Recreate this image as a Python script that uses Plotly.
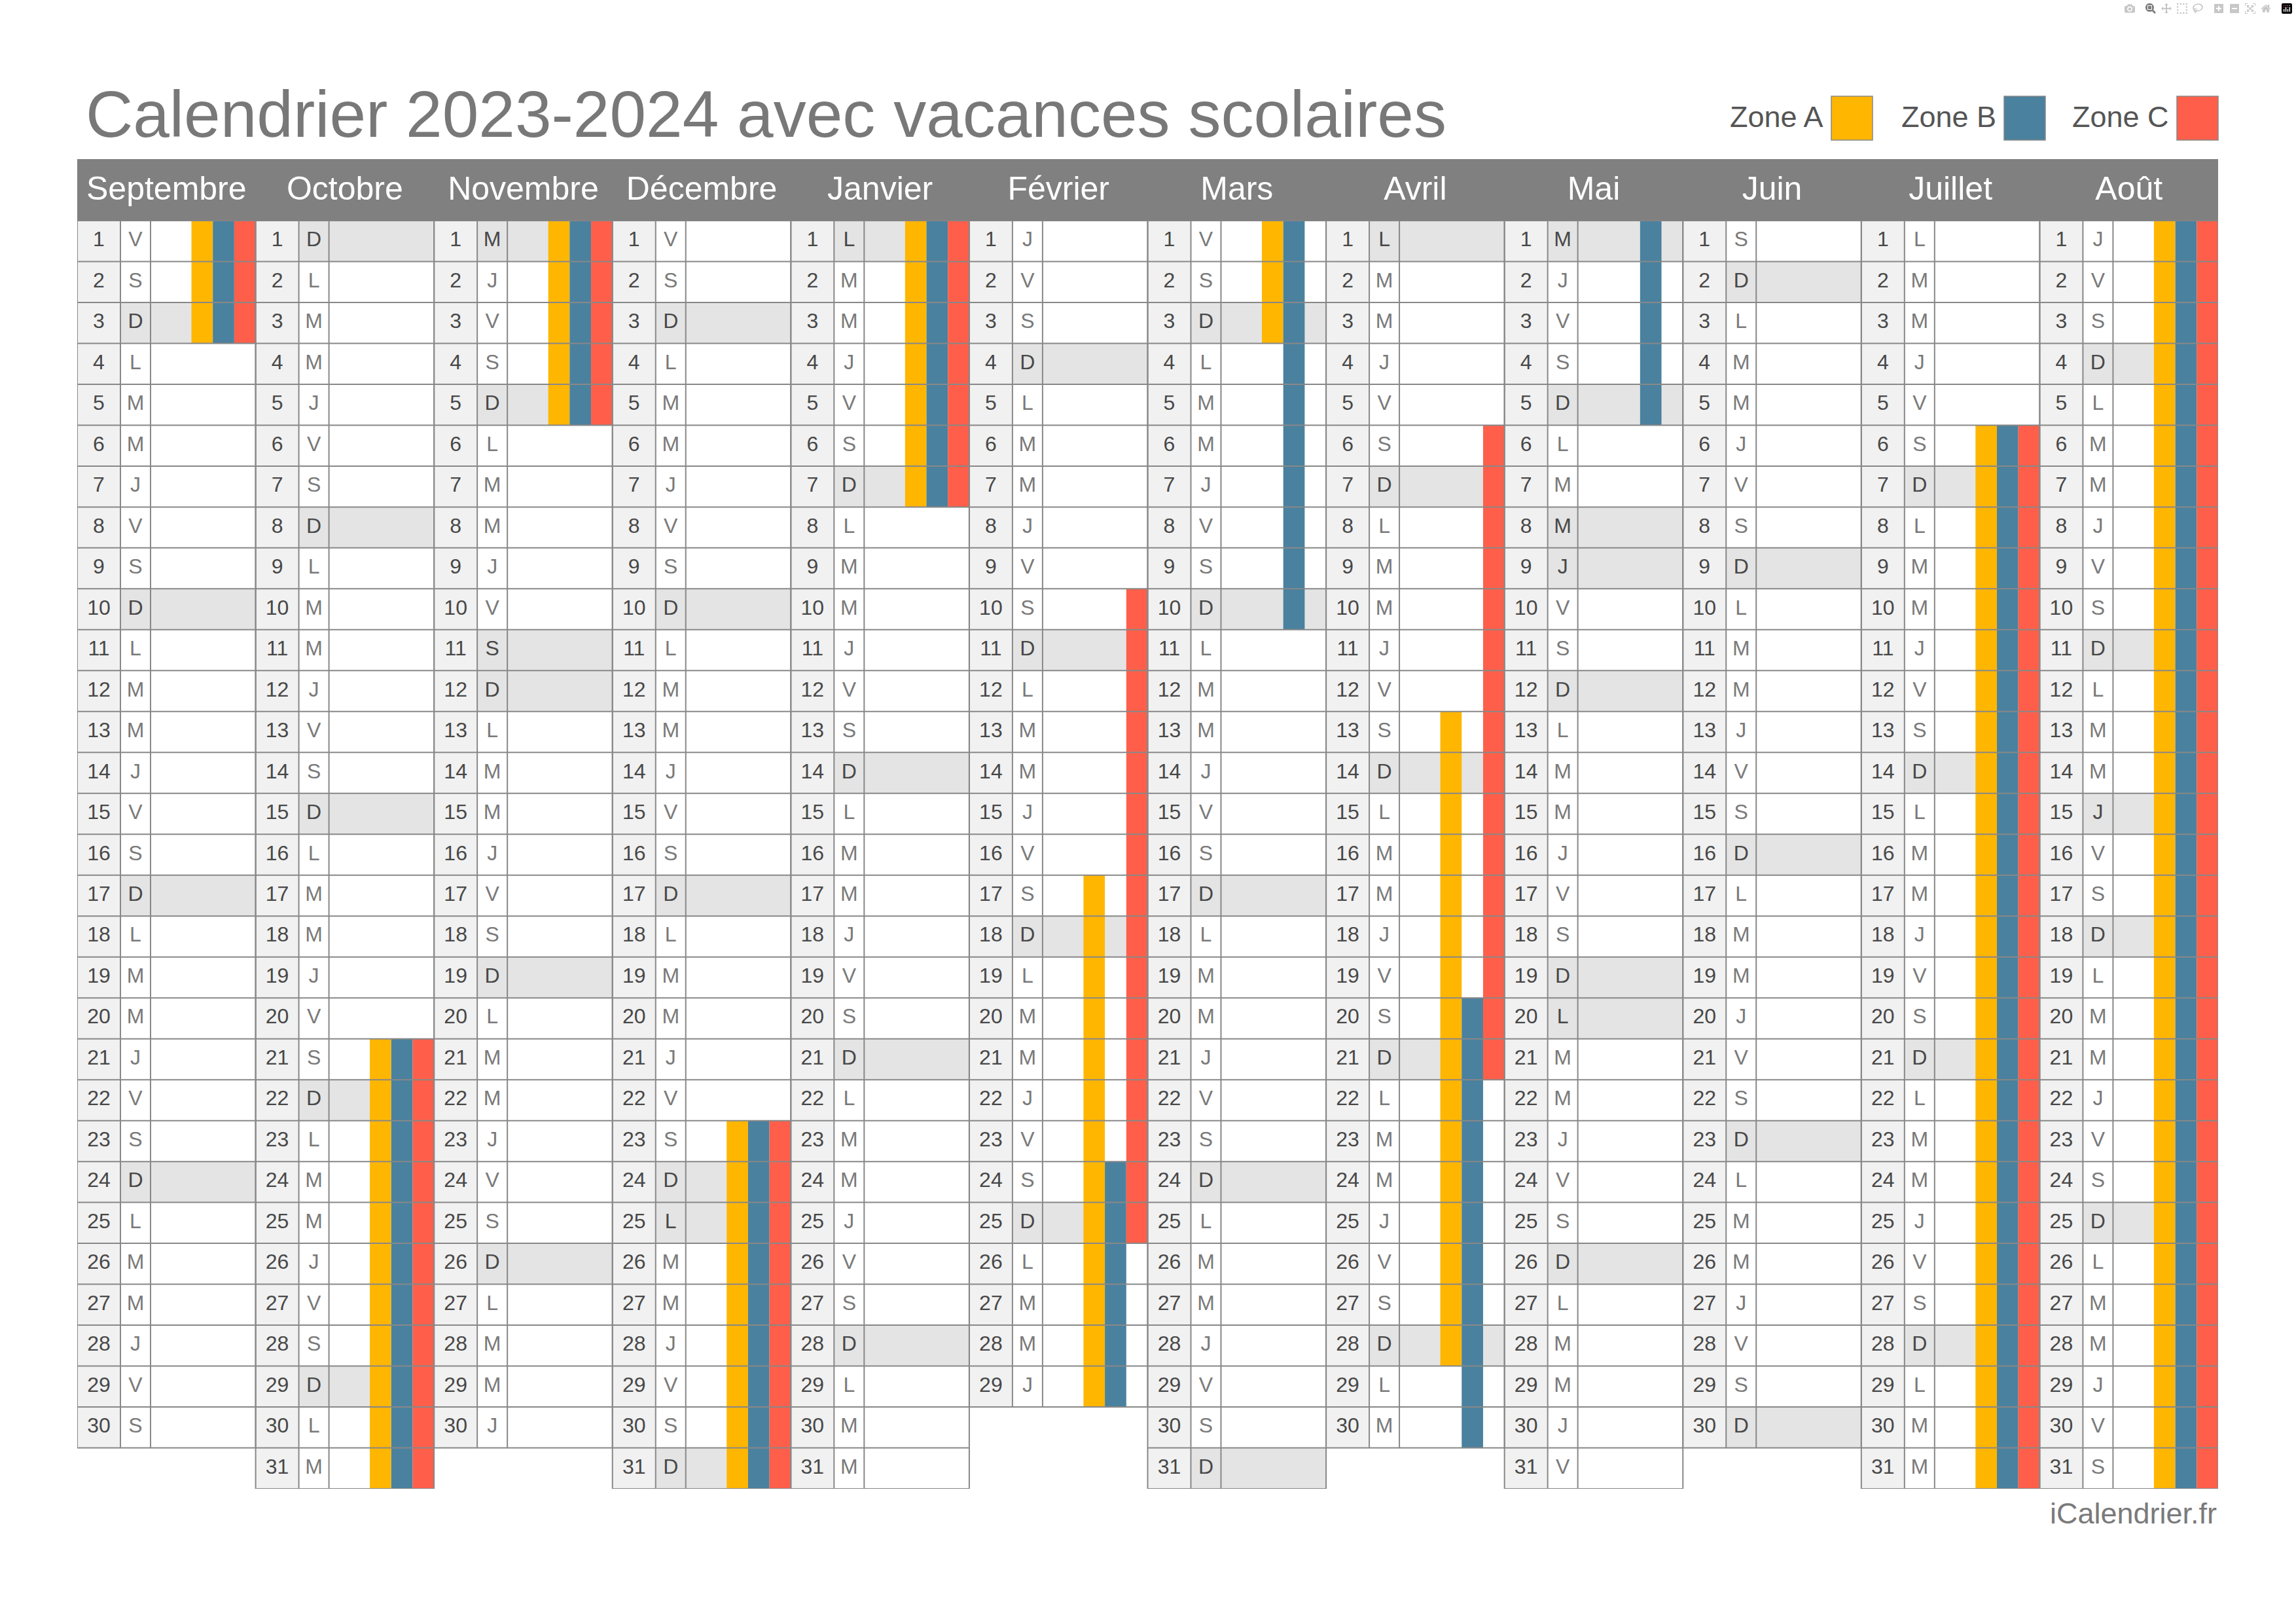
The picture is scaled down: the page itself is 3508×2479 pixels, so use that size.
import plotly.graph_objects as go

W, H = 3508, 2479

# --- Data ---
MONTHS = ["Septembre", "Octobre", "Novembre", "Décembre", "Janvier", "Février",
          "Mars", "Avril", "Mai", "Juin", "Juillet", "Août"]
WEEKDAYS = [
    "VSDLMMJVSDLMMJVSDLMMJVSDLMMJVS",
    "DLMMJVSDLMMJVSDLMMJVSDLMMJVSDLM",
    "MJVSDLMMJVSDLMMJVSDLMMJVSDLMMJ",
    "VSDLMMJVSDLMMJVSDLMMJVSDLMMJVSD",
    "LMMJVSDLMMJVSDLMMJVSDLMMJVSDLMM",
    "JVSDLMMJVSDLMMJVSDLMMJVSDLMMJ",
    "VSDLMMJVSDLMMJVSDLMMJVSDLMMJVSD",
    "LMMJVSDLMMJVSDLMMJVSDLMMJVSDLM",
    "MJVSDLMMJVSDLMMJVSDLMMJVSDLMMJV",
    "SDLMMJVSDLMMJVSDLMMJVSDLMMJVSD",
    "LMMJVSDLMMJVSDLMMJVSDLMMJVSDLMM",
    "JVSDLMMJVSDLMMJVSDLMMJVSDLMMJVS",
]
# jours feries hors dimanche
HOLIDAY_MONTH = [2, 2, 3, 4, 7, 8, 8, 8, 8, 11]
HOLIDAY_DAY = [1, 11, 25, 1, 1, 1, 8, 9, 20, 15]

# vacances : mois (index), premier jour, dernier jour
ZONE_A_MONTH = [0, 1, 2, 3, 4, 5, 6, 7, 10, 11]
ZONE_A_FIRST = [1, 21, 1, 23, 1, 17, 1, 13, 6, 1]
ZONE_A_LAST = [3, 31, 5, 31, 7, 29, 3, 28, 31, 31]

ZONE_B_MONTH = [0, 1, 2, 3, 4, 5, 6, 7, 8, 10, 11]
ZONE_B_FIRST = [1, 21, 1, 23, 1, 24, 1, 20, 1, 6, 1]
ZONE_B_LAST = [3, 31, 5, 31, 7, 29, 10, 30, 5, 31, 31]

ZONE_C_MONTH = [0, 1, 2, 3, 4, 5, 7, 10, 11]
ZONE_C_FIRST = [1, 21, 1, 23, 1, 10, 6, 6, 1]
ZONE_C_LAST = [3, 31, 5, 31, 7, 25, 21, 31, 31]

# --- Styles ---
FONT = "Liberation Sans"
COLOR_A, COLOR_B, COLOR_C = "#ffb600", "#4a819e", "#ff5f4a"
GREY_HEAD = "#808080"
GREY_LINE = "#888888"
GREY_TEXT = "#7a7a7a"
DARK_TEXT = "#484848"
BG_DAY = "#f1f1f1"
BG_OFF = "#e4e4e4"

# largeur des sous-colonnes, en fraction de mois
DAY_W = 66 / 272.6
WD_W = 46 / 272.6
BAND_W = 32.7 / 272.6
BAND_X = 1 - 3 * BAND_W

GRID_L, GRID_R, GRID_T, GRID_B = 118, 3389, 337, 2274


def px(x):
    return x / W


def py(y):
    return 1 - y / H


holidays = set(zip(HOLIDAY_MONTH, HOLIDAY_DAY))


def is_off(m, d):
    return WEEKDAYS[m][d - 1] == "D" or (m, d) in holidays


fig = go.Figure()

# --- Cellules ---
xs, bases, widths, colors = [], [], [], []
day_x, day_y, day_text = [], [], []
wd_x, wd_y, wd_text, wd_color = [], [], [], []
for m, letters in enumerate(WEEKDAYS):
    for i, letter in enumerate(letters):
        d = i + 1
        off = is_off(m, d)
        fill = BG_OFF if off else "white"
        xs += [m, m + DAY_W, m + DAY_W + WD_W]
        widths += [DAY_W, WD_W, 1 - DAY_W - WD_W]
        bases += [i, i, i]
        colors += [BG_DAY, fill, fill]
        day_x.append(m + DAY_W / 2)
        day_y.append(i + 0.5)
        day_text.append(str(d))
        wd_x.append(m + DAY_W + WD_W / 2)
        wd_y.append(i + 0.5)
        wd_text.append(letter)
        wd_color.append(DARK_TEXT if off else GREY_TEXT)

fig.add_trace(go.Bar(x=xs, y=[1] * len(xs), base=bases, width=widths, offset=0,
                     marker=dict(color=colors, line=dict(width=0)), showlegend=False))

# --- Zones ---
zones = [
    ("Zone A", ZONE_A_MONTH, ZONE_A_FIRST, ZONE_A_LAST, COLOR_A, 0),
    ("Zone B", ZONE_B_MONTH, ZONE_B_FIRST, ZONE_B_LAST, COLOR_B, 1),
    ("Zone C", ZONE_C_MONTH, ZONE_C_FIRST, ZONE_C_LAST, COLOR_C, 2),
]
for name, months, first, last, color, pos in zones:
    fig.add_trace(go.Bar(
        x=[m + BAND_X + pos * BAND_W for m in months],
        y=[b - a + 1 for a, b in zip(first, last)],
        base=[a - 1 for a in first],
        width=BAND_W, offset=0, name=name,
        marker=dict(color=color, line=dict(width=0)), showlegend=False,
    ))

# --- Grille ---
line_x, line_y = [], []
for m, letters in enumerate(WEEKDAYS):
    n = len(letters)
    for d in range(n + 1):
        line_x += [m, m + 1, None]
        line_y += [d, d, None]
    for x in (m, m + DAY_W, m + DAY_W + WD_W, m + 1):
        line_x += [x, x, None]
        line_y += [0, n, None]
fig.add_trace(go.Scatter(x=line_x, y=line_y, mode="lines", cliponaxis=False,
                         line=dict(color=GREY_LINE, width=2), showlegend=False))

# --- Textes des cellules ---
fig.add_trace(go.Scatter(x=day_x, y=day_y, text=day_text, mode="text", showlegend=False,
                         textposition="middle center",
                         textfont=dict(family=FONT, size=32, color=DARK_TEXT)))
fig.add_trace(go.Scatter(x=wd_x, y=wd_y, text=wd_text, mode="text", showlegend=False,
                         textposition="middle center",
                         textfont=dict(family=FONT, size=32, color=wd_color)))

# --- Bandeau et legende ---
shapes = [dict(type="rect", xref="paper", yref="paper", layer="below",
               x0=px(GRID_L), x1=px(GRID_R), y0=py(GRID_T), y1=py(243),
               fillcolor=GREY_HEAD, line=dict(width=0))]
annotations = []
for (name, _, _, _, color, _), sx in zip(zones, (2798, 3062, 3326)):
    shapes.append(dict(type="rect", xref="paper", yref="paper",
                       x0=px(sx), x1=px(sx + 63), y0=py(214), y1=py(147),
                       fillcolor=color, line=dict(color=GREY_LINE, width=1.5)))
    annotations.append(dict(text=name, xref="paper", yref="paper", showarrow=False,
                            x=px(sx - 10), y=py(179), xanchor="right", yanchor="middle",
                            font=dict(family=FONT, size=45, color="#555555")))
annotations.append(dict(text="iCalendrier.fr", xref="paper", yref="paper", showarrow=False,
                        x=px(GRID_R), y=py(2311), xanchor="right", yanchor="middle",
                        font=dict(family=FONT, size=45, color=GREY_TEXT)))

fig.update_layout(
    width=W, height=H, margin=dict(l=0, r=0, t=0, b=0), autosize=False,
    paper_bgcolor="white", plot_bgcolor="white", barmode="overlay", showlegend=False,
    title=dict(text="Calendrier 2023-2024 avec vacances scolaires",
               x=px(131), xanchor="left", y=py(174), yanchor="middle", pad=dict(l=0, r=0, t=0, b=0),
               font=dict(family=FONT, size=100, color="#787878")),
    xaxis=dict(domain=[px(GRID_L), px(GRID_R)], range=[0, 12], side="top",
               tickmode="array", tickvals=[m + 0.5 for m in range(12)], ticktext=MONTHS,
               tickfont=dict(family=FONT, size=50, color="white"), tickangle=0,
               ticks="", showgrid=False, zeroline=False, showline=False, ticklabelstandoff=21),
    yaxis=dict(domain=[py(GRID_B), py(GRID_T)], range=[31, 0], visible=False,
               showgrid=False, zeroline=False),
    shapes=shapes, annotations=annotations,
)

# la page garde sinon la marge par defaut du body
fig.write_html("out.html", post_script="document.body.style.margin='0';")
